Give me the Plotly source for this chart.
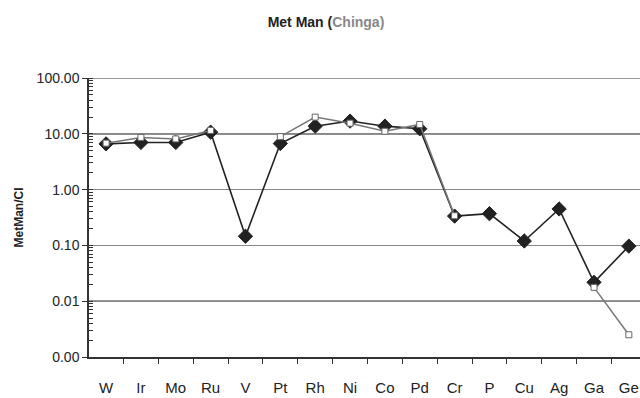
import plotly.graph_objects as go

elements = ["W", "Ir", "Mo", "Ru", "V", "Pt", "Rh", "Ni", "Co", "Pd", "Cr", "P", "Cu", "Ag", "Ga", "Ge"]
met_man = [6.6, 7.0, 7.0, 10.7, 0.146, 6.7, 13.7, 16.9, 13.7, 12.3, 0.335, 0.37, 0.12, 0.45, 0.0218, 0.097]
chinga = [6.8, 8.6, 8.1, 11.5, None, 8.9, 19.9, 15.5, 11.1, 14.7, 0.34, None, None, None, 0.0177, 0.0025]

FONT = "Liberation Sans, Arial, sans-serif"

fig = go.Figure()
fig.add_trace(go.Scatter(
    x=elements, y=met_man, mode="lines+markers", name="Met Man",
    line=dict(color="#222222", width=1.6),
    marker=dict(symbol="diamond", size=11, color="#222222", line=dict(color="#222222", width=1)),
))
fig.add_trace(go.Scatter(
    x=elements, y=chinga, mode="lines+markers", name="Chinga", connectgaps=False,
    line=dict(color="#777777", width=1.5),
    marker=dict(symbol="square", size=6, color="white", line=dict(color="#666666", width=1)),
))

for v, c in [(100, "#333333"), (10, "#222222"), (0.01, "#333333")]:
    fig.add_hline(y=v, line=dict(color=c, width=1.2), layer="below")

fig.update_layout(
    width=640, height=398,
    margin=dict(l=89, r=0, t=78, b=41),
    paper_bgcolor="white", plot_bgcolor="white",
    showlegend=False,
    font=dict(family=FONT, color="#222222"),
    title=dict(
        text="<b>Met Man (<span style='color:#888888'>Chinga)</span></b>",
        x=326 / 640, xanchor="center", y=1 - 22 / 398, yanchor="middle",
        font=dict(size=14, family=FONT, color="#222222"),
        automargin=False,
    ),
    xaxis=dict(
        type="category", range=[-0.49, 15.32], automargin=False,
        showline=True, linecolor="#333333", linewidth=1.5,
        ticks="outside", tickson="boundaries", ticklen=5, tickcolor="#333333",
        showgrid=False, tickfont=dict(size=15, color="#222222"),
        ticklabelstandoff=16,
    ),
    yaxis=dict(
        type="log", range=[-3, 2], dtick=1, tickformat=".2f", automargin=False,
        showline=True, linecolor="#333333", linewidth=1.5,
        ticks="outside", ticklen=5, tickcolor="#333333",
        showgrid=True, gridcolor="#888888", gridwidth=1.2,
        tickfont=dict(size=14, color="#222222"),
        title=dict(text="<b>MetMan/Cl</b>", font=dict(size=12, color="#222222"), standoff=10),
        minor=dict(ticks="inside", ticklen=4, tickcolor="#333333", showgrid=False, dtick="D1"),
        zeroline=False,
    ),
)

fig.write_html("out.html", config={"displayModeBar": False},
               post_script="document.body.style.margin='0px';")
